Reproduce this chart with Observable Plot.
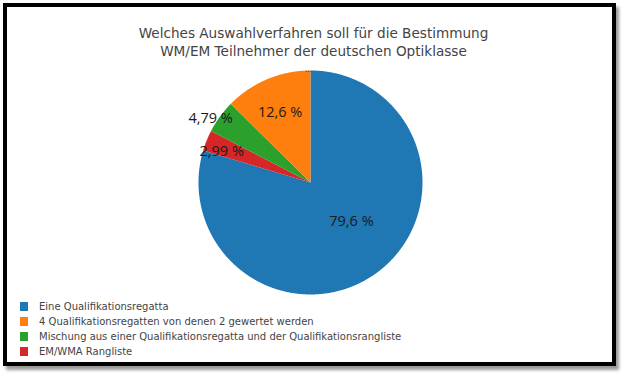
<!DOCTYPE html>
<html>
<head>
<meta charset="utf-8">
<script src="https://cdn.jsdelivr.net/npm/d3@7"></script>
<script src="https://cdn.jsdelivr.net/npm/@observablehq/plot@0.6"></script>
<style>
  html, body { margin: 0; padding: 0; background: #fff; }
  #wrap { position: relative; width: 625px; height: 376px; background: #fff; overflow: hidden; }
  .frame { position: absolute; left: 3px; top: 3px; width: 613px; height: 363px; box-sizing: border-box;
           border: 4px solid #000; box-shadow: 3px 4px 3px rgba(0,0,0,0.4); }
  .title { position: absolute; left: 0; width: 627px; top: 24px; text-align: center;
           font-family: "DejaVu Sans", Verdana, sans-serif; font-size: 13.6px; line-height: 18px; color: #444; }
  #chart { position: absolute; left: 0; top: 0; }
  .legend { position: absolute; left: 20px; top: 299px; font-family: "DejaVu Sans", Verdana, sans-serif;
            font-size: 10px; color: #444; }
  .legend .row { height: 15px; line-height: 15px; display: flex; align-items: center; white-space: nowrap; }
  .legend .sw { width: 8px; height: 9px; margin-right: 11px; }
</style>
</head>
<body>
<div id="wrap">
  <div class="frame"></div>
  <div class="title" id="title"></div>
  <div id="chart"></div>
  <div class="legend" id="legend"></div>
</div>
<script>
const titleLines = ["Welches Auswahlverfahren soll für die Bestimmung", "WM/EM Teilnehmer der deutschen Optiklasse"];
const categories = [
  "Eine Qualifikationsregatta",
  "4 Qualifikationsregatten von denen 2 gewertet werden",
  "Mischung aus einer Qualifikationsregatta und der Qualifikationsrangliste",
  "EM/WMA Rangliste"
];
const values = [79.6, 12.6, 4.79, 2.99];
const valueLabels = ["79,6 %", "12,6 %", "4,79 %", "2,99 %"];
const colors = ["#1f77b4", "#ff7f0e", "#2ca02c", "#d62728"];
// clockwise drawing order from 12 o'clock (indices into categories)
const drawOrder = [0, 3, 2, 1];

// label placement: radius as a fraction of the pie radius, and angular shift (deg) from the slice middle
const labelRadius = [0.505, 0.68, 1.06, 0.84];
const labelShift = [-9.7, -0.8, -3.3, -2.7];

const total = d3.sum(values);
const slices = [];
let acc = 0;
for (const i of drawOrder) {
  const a0 = acc / total, a1 = (acc + values[i]) / total;
  acc += values[i];
  slices.push({i, a0, a1});
}

const pts = [];
for (const s of slices) {
  pts.push({k: categories[s.i], x: 0, y: 0});
  const n = Math.max(2, Math.ceil((s.a1 - s.a0) * 720));
  for (let j = 0; j <= n; j++) {
    const t = 2 * Math.PI * (s.a0 + (s.a1 - s.a0) * j / n);
    pts.push({k: categories[s.i], x: Math.sin(t), y: Math.cos(t)});
  }
  pts.push({k: categories[s.i], x: 0, y: 0});
}

const labels = slices.map(s => {
  const t = 2 * Math.PI * (s.a0 + s.a1) / 2 + labelShift[s.i] * Math.PI / 180;
  const r = labelRadius[s.i];
  return {text: valueLabels[s.i], x: r * Math.sin(t), y: r * Math.cos(t)};
});

const chart = Plot.plot({
  width: 625,
  height: 376,
  margin: 0,
  x: {domain: [-1, 1], range: [198, 422], axis: null},
  y: {domain: [-1, 1], range: [294, 70], axis: null},
  color: {domain: categories, range: colors},
  style: {background: "transparent", overflow: "visible"},
  marks: [
    Plot.line(pts, {x: "x", y: "y", z: "k", fill: "k", stroke: "none"}),
    Plot.text(labels, {x: "x", y: "y", text: "text", fontSize: 14.5, fill: "#1a1a1a",
      fontFamily: "'Open Sans', sans-serif"}),
    Plot.text(["..."], {x: [0], y: [0.985], text: d => d, fontSize: 9, fill: "#333", dx: -2, dy: -3,
      fontFamily: "'Open Sans', sans-serif"})
  ]
});
document.getElementById("chart").appendChild(chart);

document.getElementById("title").innerHTML = titleLines.join("<br>");
const leg = document.getElementById("legend");
categories.forEach((c, i) => {
  const row = document.createElement("div");
  row.className = "row";
  const sw = document.createElement("div");
  sw.className = "sw";
  sw.style.background = colors[i];
  const tx = document.createElement("span");
  tx.textContent = c;
  row.appendChild(sw);
  row.appendChild(tx);
  leg.appendChild(row);
});
</script>
</body>
</html>
